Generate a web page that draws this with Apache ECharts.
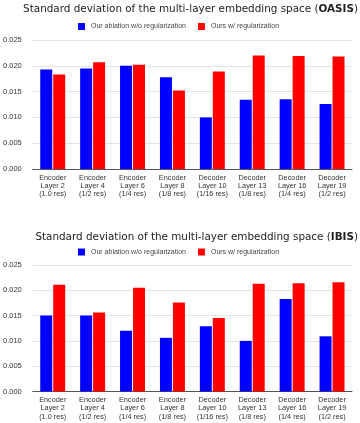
<!DOCTYPE html>
<html style="height: 100%">
    <head>
        <title>Std dev of multi-layer embedding space</title>
        <script type="text/javascript" src="https://cdn.jsdelivr.net/npm/echarts@6.0.0/dist/echarts.min.js"></script>
    </head>
    <body style="height: 100%; margin: 0; background: #fff">
        <div id="target" style="width: 360px; height: 423px"></div>

<script>
// layer names, shown on three lines under each group
let layers = [
    "Encoder\nLayer 2\n(1.0 res)",
    "Encoder\nLayer 4\n(1/2 res)",
    "Encoder\nLayer 6\n(1/4 res)",
    "Encoder\nLayer 8\n(1/8 res)",
    "Decoder\nLayer 10\n(1/16 res)",
    "Decoder\nLayer 13\n(1/8 res)",
    "Decoder\nLayer 16\n(1/4 res)",
    "Decoder\nLayer 19\n(1/2 res)",
];

let seriesNames = ["Our ablation w/o regularization", "Ours w/ regularization"];

// OASIS
let oasisAblation = [0.0193, 0.0195, 0.0200, 0.0178, 0.0100, 0.0134, 0.0135, 0.0126];
let oasisOurs     = [0.0183, 0.0207, 0.0202, 0.0152, 0.0189, 0.0220, 0.0219, 0.0218];

// IBIS
let ibisAblation = [0.0150, 0.0150, 0.0120, 0.0106, 0.0129, 0.0100, 0.0183, 0.0109];
let ibisOurs     = [0.0211, 0.0156, 0.0205, 0.0176, 0.0145, 0.0213, 0.0214, 0.0216];

let yTicks = { min: 0, max: 0.025, interval: 0.005 };

let chart = echarts.init(document.getElementById('target'));

let titleFont = "'DejaVu Sans', Verdana, sans-serif";
let bodyFont = "'Liberation Sans', Arial, sans-serif";

let MakeTitle = (dataset, top) => {
    return {
        text: "Standard deviation of the multi-layer embedding space ({b|" + dataset + "})",
        right: -3,
        top: top,
        textStyle: {
            fontFamily: titleFont,
            fontSize: 10.4,
            fontWeight: "normal",
            color: "#222",
            rich: {
                b: { fontFamily: titleFont, fontSize: 10.4, fontWeight: "bold", color: "#222" },
            },
        },
    };
};

let MakeLegend = (top) => {
    return {
        top: top,
        left: 73,
        itemWidth: 7,
        itemHeight: 7,
        itemGap: 12,
        icon: "rect",
        data: seriesNames,
        textStyle: { fontFamily: bodyFont, fontSize: 7, color: "#444", padding: [0, 0, 0, 1] },
    };
};

let MakeX = (gridIndex) => {
    return {
        type: "category",
        gridIndex: gridIndex,
        data: layers,
        axisTick: { show: false },
        axisLine: { lineStyle: { color: "#555", width: 1 } },
        axisLabel: {
            interval: 0,
            margin: 4.5,
            fontFamily: bodyFont,
            fontSize: 7.3,
            lineHeight: 8.3,
            color: "#333",
        },
    };
};

let MakeY = (gridIndex) => {
    return {
        type: "value",
        gridIndex: gridIndex,
        min: yTicks.min,
        max: yTicks.max,
        interval: yTicks.interval,
        axisLine: { show: false },
        axisTick: { show: false },
        splitLine: { lineStyle: { color: "#e2e2e2" } },
        axisLabel: {
            margin: 11,
            fontFamily: bodyFont,
            fontSize: 7.5,
            color: "#333",
            formatter: (v) => v.toFixed(3),
        },
    };
};

let MakeBar = (name, data, idx, color) => {
    return {
        type: "bar",
        name: name,
        data: data,
        xAxisIndex: idx,
        yAxisIndex: idx,
        barWidth: 12,
        barGap: "8%",
        itemStyle: { color: color },
        emphasis: { disabled: true },
    };
};

let option = {
    animation: false,
    color: ["#0000ff", "#ff0000"],
    title: [MakeTitle("OASIS", -6.5), MakeTitle("IBIS", 221.5)],
    legend: [MakeLegend(15.5), MakeLegend(241)],
    grid: [
        { left: 28, right: 8, top: 40, height: 129 },
        { left: 28, right: 8, top: 265, height: 129 },
    ],
    xAxis: [MakeX(0), MakeX(1)],
    yAxis: [MakeY(0), MakeY(1)],
    series: [
        MakeBar(seriesNames[0], oasisAblation, 0, "#0000ff"),
        MakeBar(seriesNames[1], oasisOurs, 0, "#ff0000"),
        MakeBar(seriesNames[0], ibisAblation, 1, "#0000ff"),
        MakeBar(seriesNames[1], ibisOurs, 1, "#ff0000"),
    ],
};

chart.setOption(option);
</script>
    </body>
</html>
